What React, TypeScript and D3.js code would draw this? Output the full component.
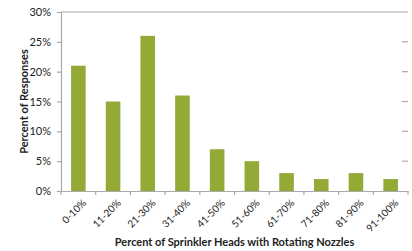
import { useRef, useEffect } from "react";
import * as d3 from "d3";

const categories = ["0-10%", "11-20%", "21-30%", "31-40%", "41-50%", "51-60%", "61-70%", "71-80%", "81-90%", "91-100%"];
const responses = [21, 15, 26, 16, 7, 5, 3, 2, 3, 2];
const yTicks = [0, 5, 10, 15, 20, 25, 30];

export default function App() {
  const svgRef = useRef<SVGSVGElement>(null);

  useEffect(() => {
    const width = 412;
    const height = 251;
    const m = { left: 61, right: 4, top: 12, bottom: 60 };
    const font = "Lato, 'Open Sans', sans-serif";
    const svg = d3.select(svgRef.current).attr("width", width).attr("height", height);
    svg.selectAll("*").remove();

    const x = d3.scaleBand().domain(categories).range([m.left, width - m.right]).paddingInner(0.58).paddingOuter(0.29);
    const y = d3.scaleLinear().domain([0, 30]).range([height - m.bottom, m.top]);

    // frame top and right ticks
    svg.append("line")
      .attr("x1", m.left).attr("x2", width - m.right)
      .attr("y1", y(30)).attr("y2", y(30))
      .attr("stroke", "#aaa").attr("stroke-width", 1.2);
    svg.selectAll(".rtick").data(yTicks.slice(1, -1)).join("line")
      .attr("x1", width - m.right - 6).attr("x2", width - m.right)
      .attr("y1", (d) => y(d)).attr("y2", (d) => y(d))
      .attr("stroke", "#aaa").attr("stroke-width", 1.2);

    // bars
    svg.selectAll("rect").data(responses).join("rect")
      .attr("x", (d, i) => x(categories[i])!)
      .attr("width", x.bandwidth())
      .attr("y", (d) => y(d))
      .attr("height", (d) => y(0) - y(d))
      .attr("fill", "#93aa37");

    const yAxis = d3.axisLeft(y).tickValues(yTicks).tickSize(4).tickFormat((d) => d + "%");
    const gy = svg.append("g").attr("transform", `translate(${m.left},0)`).call(yAxis);
    gy.selectAll("path, line").attr("stroke", "#aaa").attr("stroke-width", 1.2);
    gy.selectAll("text").attr("font-family", font).attr("font-size", 11).attr("fill", "#222").attr("dx", -3);

    const xAxis = d3.axisBottom(x).tickSize(0).tickSizeOuter(0);
    const gx = svg.append("g").attr("transform", `translate(0,${y(0)})`).call(xAxis);
    gx.select("path").attr("stroke", "#aaa").attr("stroke-width", 1.2);
    gx.selectAll("text")
      .attr("font-family", font).attr("font-size", 10).attr("fill", "#222")
      .attr("text-anchor", "end")
      .attr("transform", "translate(4,8) rotate(-45)")
      .attr("dy", "0.35em");
    // tick marks between categories
    const step = x.step();
    const edges = d3.range(categories.length + 1).map((i) => m.left + i * step);
    svg.selectAll(".xtick").data(edges).join("line")
      .attr("x1", (d) => d).attr("x2", (d) => d)
      .attr("y1", y(0)).attr("y2", y(0) + 4)
      .attr("stroke", "#aaa").attr("stroke-width", 1.2);

    svg.append("text")
      .attr("transform", `translate(28,${(y(0) + y(30)) / 2}) rotate(-90)`)
      .attr("text-anchor", "middle")
      .attr("font-family", font).attr("font-weight", "bold").attr("font-size", 11).attr("fill", "#222")
      .text("Percent of Responses");
    svg.append("text")
      .attr("x", (m.left + width - m.right) / 2).attr("y", 246)
      .attr("text-anchor", "middle")
      .attr("font-family", font).attr("font-weight", "bold").attr("font-size", 11).attr("fill", "#222")
      .text("Percent of Sprinkler Heads with Rotating Nozzles");
  }, []);

  return <svg ref={svgRef} style={{ position: "absolute", left: 0, top: 0 }}></svg>;
}
